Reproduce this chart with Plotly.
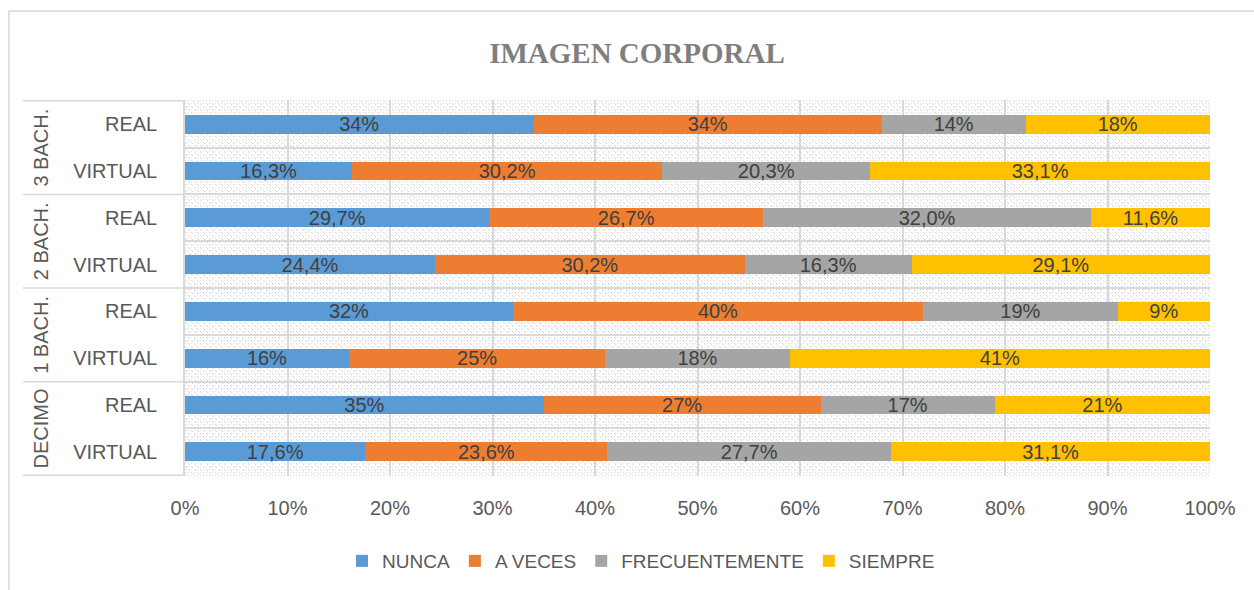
import base64
import plotly.graph_objects as go

# Categories bottom -> top
groups = ["DECIMO", "1 BACH.", "2 BACH.", "3 BACH."]
subcats = ["VIRTUAL", "REAL"]
cat_keys = [f"{g}|{s}" for g in groups for s in subcats]
cat_labels = [s for g in groups for s in subcats]

series_names = ["NUNCA", "A VECES", "FRECUENTEMENTE", "SIEMPRE"]
colors = ["#5B9BD5", "#ED7D31", "#A5A5A5", "#FFC000"]

nunca = [17.6, 35, 16, 32, 24.4, 29.7, 16.3, 34]
a_veces = [23.6, 27, 25, 40, 30.2, 26.7, 30.2, 34]
frecuentemente = [27.7, 17, 18, 19, 16.3, 32.0, 20.3, 14]
siempre = [31.1, 21, 41, 9, 29.1, 11.6, 33.1, 18]

nunca_lbl = ["17,6%", "35%", "16%", "32%", "24,4%", "29,7%", "16,3%", "34%"]
a_veces_lbl = ["23,6%", "27%", "25%", "40%", "30,2%", "26,7%", "30,2%", "34%"]
frec_lbl = ["27,7%", "17%", "18%", "19%", "16,3%", "32,0%", "20,3%", "14%"]
siempre_lbl = ["31,1%", "21%", "41%", "9%", "29,1%", "11,6%", "33,1%", "18%"]

x_ticks = [0, 10, 20, 30, 40, 50, 60, 70, 80, 90, 100]
x_tick_text = [f"{v}%" for v in x_ticks]

FONT = "Liberation Sans, Arial, sans-serif"
TXT = "#595959"
GRID = "#d9d9d9"

fig = go.Figure()
for name, vals, lbls, col in zip(series_names,
                                 [nunca, a_veces, frecuentemente, siempre],
                                 [nunca_lbl, a_veces_lbl, frec_lbl, siempre_lbl],
                                 colors):
    fig.add_trace(go.Bar(
        y=cat_keys, x=vals, name=name, orientation="h",
        marker=dict(color=col, line=dict(width=0)),
        text=lbls, textposition="inside", insidetextanchor="middle",
        textfont=dict(color="#404040", size=20, family=FONT),
        hoverinfo="x+name",
    ))

# plot-area geometry in pixels (for decorations)
L, R, T, B = 185, 1210, 100, 476
W, H = R - L, B - T


def px_x(p):
    return (p - L) / W


def px_y(p):
    return (B - p) / H


# dotted-diagonal hatched plot-area background (Excel pattern fill look)
svg = (
    f'<svg xmlns="http://www.w3.org/2000/svg" width="{W}" height="{H}" shape-rendering="crispEdges">'
    '<defs><pattern id="p" width="6" height="6" patternUnits="userSpaceOnUse">'
    '<rect width="6" height="6" fill="#ffffff"/>'
    '<rect x="0" y="0" width="1" height="1" fill="#d6d6d6"/>'
    '<rect x="1" y="1" width="1" height="1" fill="#d6d6d6"/>'
    '<rect x="3" y="3" width="1" height="1" fill="#d6d6d6"/>'
    '<rect x="4" y="4" width="1" height="1" fill="#d6d6d6"/>'
    '<rect x="3" y="0" width="1" height="1" fill="#e4e4e4"/>'
    '<rect x="0" y="3" width="1" height="1" fill="#e4e4e4"/>'
    '</pattern></defs>'
    f'<rect width="{W}" height="{H}" fill="url(#p)"/></svg>'
)
svg_uri = "data:image/svg+xml;base64," + base64.b64encode(svg.encode()).decode()

shapes = []
# group separators / category axis lines
for yb in [-0.5, 1.5, 3.5, 5.5, 7.5]:
    shapes.append(dict(type="line", xref="paper", yref="y",
                       x0=px_x(23), x1=0, y0=yb, y1=yb,
                       line=dict(color=GRID, width=1.5)))
# chart border
shapes.append(dict(type="rect", xref="paper", yref="paper",
                   x0=px_x(9), x1=px_x(1270), y0=px_y(605), y1=px_y(11),
                   line=dict(color=GRID, width=1.5), fillcolor="rgba(0,0,0,0)",
                   layer="below"))

annotations = []
for i, g in enumerate(groups):
    annotations.append(dict(
        xref="paper", yref="y", x=px_x(41), y=2 * i + 0.5,
        text=g, showarrow=False, textangle=-90,
        font=dict(size=20, color=TXT, family=FONT),
        xanchor="center", yanchor="middle"))

fig.update_layout(
    width=1254, height=590,
    margin=dict(l=L, r=1254 - R, t=T, b=590 - B, autoexpand=False),
    paper_bgcolor="white",
    plot_bgcolor="rgba(0,0,0,0)",
    barmode="stack", barnorm="percent", bargap=0.6,
    title=dict(text="<b>IMAGEN CORPORAL</b>", x=637 / 1254, xref="container",
               y=1 - 53 / 590, yref="container", xanchor="center", yanchor="middle",
               font=dict(family="Liberation Serif, Times New Roman, serif", size=29,
                         color="#7f7f7f")),
    xaxis=dict(range=[0, 100], tickvals=x_ticks, ticktext=x_tick_text,
               showgrid=True, gridcolor=GRID, gridwidth=1.5, zeroline=False,
               showline=False, ticks="", ticklabelstandoff=18, automargin=False,
               tickfont=dict(size=20, color=TXT, family=FONT), fixedrange=True),
    yaxis=dict(type="category", categoryorder="array", categoryarray=cat_keys,
               tickmode="array", tickvals=cat_keys, ticktext=cat_labels,
               tickson="boundaries", showgrid=True, gridcolor=GRID, gridwidth=1.5,
               showline=True, linecolor=GRID, linewidth=1.5, automargin=False,
               ticks="", ticklabelstandoff=22,
               tickfont=dict(size=20, color=TXT, family=FONT), fixedrange=True),
    legend=dict(orientation="h", x=px_x(641), y=px_y(561), xanchor="center",
                yanchor="middle", font=dict(size=19, color=TXT, family=FONT),
                traceorder="normal"),
    uniformtext=dict(mode="show", minsize=20),
    images=[dict(source=svg_uri, xref="paper", yref="paper", x=0, y=1,
                 sizex=1, sizey=1, sizing="stretch", xanchor="left", yanchor="top",
                 layer="below")],
    shapes=shapes, annotations=annotations,
    showlegend=True,
)

fig.write_html("out.html", config={"displayModeBar": False},
               post_script="document.body.style.margin='0';")
